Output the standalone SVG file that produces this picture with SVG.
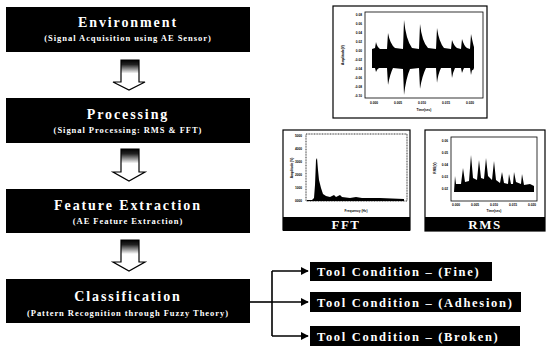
<svg xmlns="http://www.w3.org/2000/svg" width="549" height="346" viewBox="0 0 549 346">
<style>
.box{fill:#000}
.t{font-family:"Liberation Serif","Times New Roman",serif;font-weight:bold;fill:#fff;text-anchor:middle}
.title{font-size:14px;letter-spacing:1.9px}
.sub{font-size:8.5px;letter-spacing:0.95px}
.out{font-size:12.5px;letter-spacing:1.7px;text-anchor:start}
.lbl{font-size:13px;letter-spacing:1.5px}
.tiny{font-family:"Liberation Sans",Arial,sans-serif;font-weight:bold;font-size:3.2px;fill:#000}
.frame{fill:#fff;stroke:#000;stroke-width:1.2}
.plot{fill:none;stroke:#000;stroke-width:0.8}
.conn{fill:none;stroke:#000;stroke-width:1.6}
.barrow{stroke:#000;stroke-width:1.2;fill:url(#g)}
</style>
<defs>
<linearGradient id="g" x1="0" y1="0" x2="0" y2="1">
<stop offset="0" stop-color="#000"/>
<stop offset="0.15" stop-color="#222"/>
<stop offset="0.45" stop-color="#fff"/>
<stop offset="1" stop-color="#fff"/>
</linearGradient>
<marker id="ah" viewBox="0 0 10 10" refX="9" refY="5" markerWidth="5" markerHeight="5" orient="auto" markerUnits="strokeWidth">
<path d="M0,0 L10,5 L0,10 Z" fill="#000"/>
</marker>
</defs>

<g id="env">
<rect class="box" x="6" y="7" width="244" height="45"/>
<text class="t title" x="128" y="27">Environment</text>
<text class="t sub" x="128" y="41">(Signal Acquisition using AE Sensor)</text>
</g>
<g id="proc">
<rect class="box" x="6" y="98" width="244" height="45"/>
<text class="t title" x="128" y="119">Processing</text>
<text class="t sub" x="128" y="133">(Signal Processing: RMS &amp; FFT)</text>
</g>
<g id="feat">
<rect class="box" x="6" y="189" width="244" height="44"/>
<text class="t title" x="128" y="210">Feature Extraction</text>
<text class="t sub" x="128" y="224">(AE Feature Extraction)</text>
</g>
<g id="cls">
<rect class="box" x="6" y="279" width="244" height="44"/>
<text class="t title" x="128" y="301">Classification</text>
<text class="t sub" x="128" y="316">(Pattern Recognition through Fuzzy Theory)</text>
</g>

<g id="fine">
<rect class="box" x="310" y="262" width="182" height="19"/>
<text class="t out" x="317" y="276">Tool Condition – (Fine)</text>
</g>
<g id="adh">
<rect class="box" x="310" y="292" width="211" height="20"/>
<text class="t out" x="317" y="306.5">Tool Condition – (Adhesion)</text>
</g>
<g id="brk">
<rect class="box" x="310" y="326" width="210" height="20"/>
<text class="t out" x="317" y="340.5">Tool Condition – (Broken)</text>
</g>

<g id="connectors">
<path class="barrow" d="M121,60 H139 V82 H145 L129,90 L113,82 H121 Z"/>
<path class="barrow" d="M121,149 H139 V172 H145 L129,181 L113,172 H121 Z"/>
<path class="barrow" d="M121,240 H139 V262 H145 L129,271 L113,262 H121 Z"/>
<path class="conn" d="M250,302 H272"/>
<path class="conn" d="M272,271 V336"/>
<path class="conn" d="M272,271 H308" marker-end="url(#ah)"/>
<path class="conn" d="M272,302 H308" marker-end="url(#ah)"/>
<path class="conn" d="M272,336 H308" marker-end="url(#ah)"/>
</g>

<g id="chart-time">
<rect class="frame" x="333" y="6" width="154" height="112"/>
<rect class="plot" x="365" y="12" width="118" height="86"/>
<path fill="#000" d="M372,49 L375,48 L376,42 Q377,47 380,49 L387,49 L388,33 Q390,44 395,48 L403,49 L404,20 Q406,40 412,48 L419,49 L420,24 Q422,42 428,48 L436,49 L437,28 Q439,42 444,48 L451,49 L452,40 Q454,46 457,48 L461,49 L462,39 Q464,46 467,48 L470,49 L471,34 Q473,44 474,47 L474,68 Q473,71 472,70 L471,75 L470,68 L464,68 Q463,70 462,73 L461,68 L455,68 Q453,72 452,78 L451,68 L441,68 Q438,74 437,83 L436,68 L426,68 Q422,76 420,89 L419,68 L410,69 Q406,78 404,95 L403,69 L393,68 Q390,74 388,85 L387,68 L379,68 Q377,69 376,72 L375,68 L372,68 Z"/>
<text class="tiny" x="362" y="16" text-anchor="end">0.08</text>
<text class="tiny" x="362" y="25" text-anchor="end">0.06</text>
<text class="tiny" x="362" y="34" text-anchor="end">0.04</text>
<text class="tiny" x="362" y="43" text-anchor="end">0.02</text>
<text class="tiny" x="362" y="52" text-anchor="end">0.00</text>
<text class="tiny" x="362" y="61" text-anchor="end">-0.02</text>
<text class="tiny" x="362" y="70" text-anchor="end">-0.04</text>
<text class="tiny" x="362" y="79" text-anchor="end">-0.06</text>
<text class="tiny" x="362" y="88" text-anchor="end">-0.08</text>
<text class="tiny" x="362" y="97" text-anchor="end">-0.10</text>
<text class="tiny" x="374" y="104" text-anchor="middle">0.000</text>
<text class="tiny" x="398" y="104" text-anchor="middle">0.005</text>
<text class="tiny" x="422" y="104" text-anchor="middle">0.010</text>
<text class="tiny" x="446" y="104" text-anchor="middle">0.015</text>
<text class="tiny" x="470" y="104" text-anchor="middle">0.020</text>
<text class="tiny" x="424" y="111" text-anchor="middle">Time(sec)</text>
<text class="tiny" transform="translate(344,55) rotate(-90)" text-anchor="middle">Amplitude(V)</text>
</g>

<g id="chart-fft">
<rect class="frame" x="283" y="130" width="127" height="100"/>
<rect class="plot" x="306" y="134" width="101" height="67" stroke-dasharray="1,0.6"/>
<path fill="#000" d="M307,200 L312,200 L314,198 L315,185 L316,160 L317,158 L318,170 L319,180 L321,188 L323,194 L326,196 L330,197 L334,195 L336,197 L340,195 L342,197 L350,198 L356,197 L362,198 L380,198 L404,199 L404,201 L307,201 Z"/>
<text class="tiny" x="302" y="137" text-anchor="end">5000</text>
<text class="tiny" x="302" y="150" text-anchor="end">4000</text>
<text class="tiny" x="302" y="163" text-anchor="end">3000</text>
<text class="tiny" x="302" y="176" text-anchor="end">2000</text>
<text class="tiny" x="302" y="189" text-anchor="end">1000</text>
<text class="tiny" x="302" y="202" text-anchor="end">0000</text>
<text class="tiny" x="356" y="212" text-anchor="middle">Frequency (Hz)</text>
<text class="tiny" transform="translate(293,168) rotate(-90)" text-anchor="middle">Amplitude (V)</text>
<rect class="box" x="283" y="217" width="127" height="14"/>
<text class="t lbl" x="346" y="229">FFT</text>
</g>

<g id="chart-rms">
<rect class="frame" x="425" y="130" width="120" height="101"/>
<rect class="plot" x="451" y="137" width="86" height="64"/>
<path fill="#000" d="M454,192 L455,176 L456,184 L461,184 L463,168 L465,182 L469,181 L471,155 L473,178 L477,180 L479,160 L481,178 L484,179 L486,158 L488,176 L492,180 L494,161 L496,180 L500,183 L502,172 L504,183 L508,184 L509,174 L511,184 L513,184 L514,172 L516,182 L521,184 L522,174 L524,185 L530,184 L534,186 L534,192 Z"/>
<text class="tiny" x="448" y="142" text-anchor="end">0.06</text>
<text class="tiny" x="448" y="154" text-anchor="end">0.05</text>
<text class="tiny" x="448" y="166" text-anchor="end">0.04</text>
<text class="tiny" x="448" y="178" text-anchor="end">0.03</text>
<text class="tiny" x="448" y="190" text-anchor="end">0.02</text>
<text class="tiny" x="456" y="206" text-anchor="middle">0.000</text>
<text class="tiny" x="475" y="206" text-anchor="middle">0.005</text>
<text class="tiny" x="494" y="206" text-anchor="middle">0.010</text>
<text class="tiny" x="513" y="206" text-anchor="middle">0.015</text>
<text class="tiny" x="532" y="206" text-anchor="middle">0.020</text>
<text class="tiny" x="494" y="212" text-anchor="middle">Time(sec)</text>
<text class="tiny" transform="translate(436,168) rotate(-90)" text-anchor="middle">RMS(V)</text>
<rect class="box" x="425" y="217" width="120" height="14"/>
<text class="t lbl" x="485" y="229">RMS</text>
</g>
</svg>
